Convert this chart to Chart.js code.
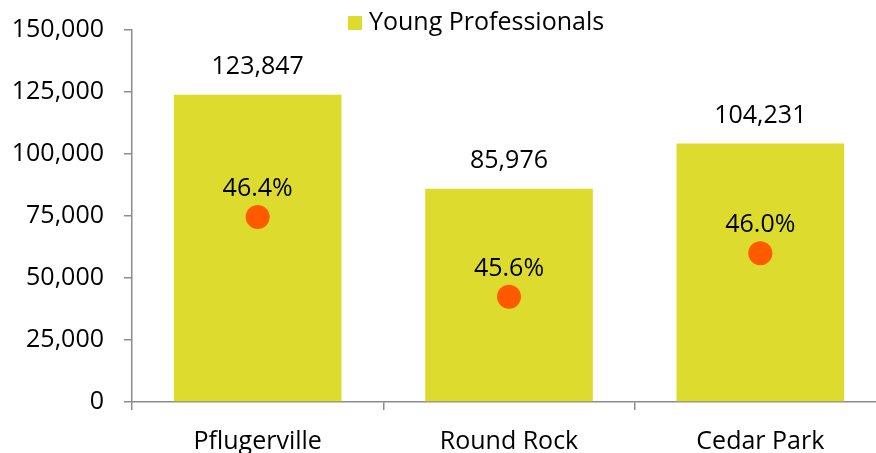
<!DOCTYPE html>
<html>
<head>
<meta charset="utf-8">
<script src="https://cdn.jsdelivr.net/npm/chart.js@4"></script>
<style>
  html, body { margin: 0; padding: 0; background: #fff; overflow: hidden; }
  #wrap { width: 898px; height: 453px; }
</style>
</head>
<body>
<div id="wrap"><canvas id="chart" width="898" height="453"></canvas></div>
<script>
// datos del grafico
const categories = ['Pflugerville', 'Round Rock', 'Cedar Park'];
const youngProfessionals = [123847, 85976, 104231];
const sharePct = [46.44, 45.56, 46.04];
const yTicks = [0, 25000, 50000, 75000, 100000, 125000, 150000];

const FONT = '"Open Sans", sans-serif';
const FONT_SIZE = 25;
const AXIS_COLOR = '#8c8c8c';

// etiquetas encima de barras y puntos
const valueLabels = {
    id: 'valueLabels',
    afterDatasetsDraw(chart) {
        const c = chart.ctx;
        c.save();
        c.font = FONT_SIZE + 'px ' + FONT;
        c.fillStyle = '#000';
        c.textAlign = 'center';
        c.textBaseline = 'middle';
        chart.getDatasetMeta(0).data.forEach((el, i) => {
            c.fillText(youngProfessionals[i].toLocaleString('en-US'), el.x, el.y - 28);
        });
        chart.getDatasetMeta(1).data.forEach((el, i) => {
            c.fillText(sharePct[i].toFixed(1) + '%', el.x, el.y - 28);
        });
        c.restore();
    }
};

// leyenda dibujada a mano (va encima del area del grafico)
const legendBox = {
    id: 'legendBox',
    afterDraw(chart) {
        const c = chart.ctx;
        c.save();
        c.fillStyle = chart.data.datasets[0].backgroundColor;
        c.fillRect(348, 16, 14, 14);
        c.font = FONT_SIZE + 'px ' + FONT;
        c.fillStyle = '#000';
        c.textAlign = 'left';
        c.textBaseline = 'middle';
        c.fillText(chart.data.datasets[0].label, 369, 23);
        c.restore();
    }
};

const ctx = document.getElementById('chart').getContext('2d');
const chart = new Chart(ctx, {
    type: 'bar',
    data: {
        labels: categories,
        datasets: [{
            label: 'Young Professionals',
            data: youngProfessionals,
            backgroundColor: '#DDDC2E',
            barPercentage: 0.667,
            categoryPercentage: 1.0,
            yAxisID: 'y',
            order: 2
        }, {
            type: 'line',
            label: 'Share',
            data: sharePct,
            showLine: false,
            pointRadius: 12,
            pointBackgroundColor: '#FF5A00',
            pointBorderWidth: 0,
            yAxisID: 'y2',
            order: 1
        }]
    },
    options: {
        responsive: false,
        animation: false,
        layout: { padding: { top: 30, right: 0, left: 0, bottom: 0 } },
        plugins: {
            legend: { display: false },
            tooltip: { enabled: false }
        },
        scales: {
            x: {
                grid: { drawOnChartArea: false, drawTicks: true, tickLength: 8, color: AXIS_COLOR, lineWidth: 1.5, offset: true },
                border: { color: AXIS_COLOR, width: 1.5 },
                ticks: { color: '#000', font: { family: FONT, size: FONT_SIZE }, padding: 17 },
                afterFit(scale) { scale.height = 51; }
            },
            y: {
                min: 0,
                max: 150000,
                afterBuildTicks(scale) { scale.ticks = yTicks.map(v => ({ value: v })); },
                grid: { drawOnChartArea: false, drawTicks: true, tickLength: 8, color: AXIS_COLOR, lineWidth: 1.5 },
                border: { color: AXIS_COLOR, width: 1.5 },
                ticks: {
                    color: '#000',
                    font: { family: FONT, size: FONT_SIZE },
                    padding: 20,
                    callback: v => v.toLocaleString('en-US')
                },
                afterFit(scale) {
                    scale.width = 132;
                    scale.paddingTop = 0;
                    scale.paddingBottom = 0;
                }
            },
            y2: {
                display: false,
                min: 44.4,
                max: 48.5
            }
        }
    },
    plugins: [valueLabels, legendBox]
});
</script>
</body>
</html>
